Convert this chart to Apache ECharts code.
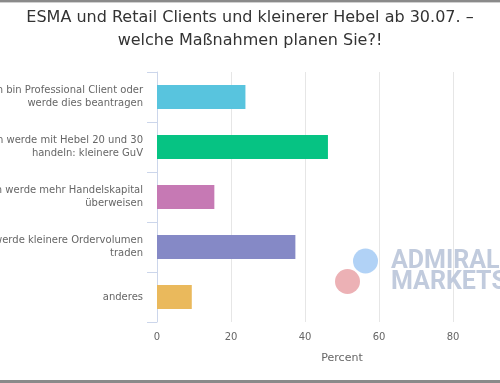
<!DOCTYPE html>
<html>
<head>
<meta charset="utf-8">
<script src="https://cdn.jsdelivr.net/npm/echarts@6/dist/echarts.min.js"></script>
<style>
html,body{margin:0;padding:0;background:#fff;}
#chart{width:500px;height:383px;}
</style>
</head>
<body>
<div id="chart"></div>
<script>
const titleText = 'ESMA und Retail Clients und kleinerer Hebel ab 30.07. –\nwelche Maßnahmen planen Sie?!';
const categories = [
  'Ich bin Professional Client oder\nwerde dies beantragen',
  'Ich werde mit Hebel 20 und 30\nhandeln: kleinere GuV',
  'Ich werde mehr Handelskapital\nüberweisen',
  'Ich werde kleinere Ordervolumen\ntraden',
  'anderes'
];
const percentValues = [23.9, 46.2, 15.5, 37.4, 9.4];
const barColors = ['#58c4de', '#06c383', '#c679b4', '#8589c6', '#eab95c'];
const axisName = 'Percent';
const xTicks = [0, 20, 40, 60, 80, 100];

const chart = echarts.init(document.getElementById('chart'), null, {renderer: 'canvas'});
const font = 'DejaVu Sans, Lucida Grande, sans-serif';
chart.setOption({
  animation: false,
  backgroundColor: '#ffffff',
  title: {
    text: titleText,
    left: 'center',
    top: 1,
    textStyle: {fontFamily: font, fontSize: 16, fontWeight: 'normal', color: '#333333', lineHeight: 23}
  },
  grid: {left: 157, top: 72, width: 370, height: 250, containLabel: false, outerBoundsMode: 'none'},
  xAxis: {
    type: 'value',
    min: xTicks[0],
    max: xTicks[xTicks.length - 1],
    interval: 20,
    name: axisName,
    nameLocation: 'middle',
    nameGap: 31,
    nameTextStyle: {fontFamily: font, fontSize: 11, color: '#666666'},
    axisLine: {show: false},
    axisTick: {show: false},
    axisLabel: {fontFamily: font, fontSize: 10, color: '#666666', margin: 10},
    splitLine: {show: true, lineStyle: {color: '#e6e6e6', width: 1}}
  },
  yAxis: {
    type: 'category',
    inverse: true,
    data: categories,
    axisLine: {show: true, lineStyle: {color: '#ccd6eb', width: 1}},
    axisTick: {show: true, length: 10, lineStyle: {color: '#ccd6eb'}},
    axisLabel: {fontFamily: font, fontSize: 10, color: '#666666', margin: 14, lineHeight: 13, align: 'right'},
    splitLine: {show: false}
  },
  series: [{
    type: 'bar',
    barWidth: 24,
    data: percentValues.map((v, i) => ({value: v, itemStyle: {color: barColors[i]}})),
    z: 2
  }],
  graphic: [
    {type: 'rect', shape: {x: 0, y: 0, width: 500, height: 2}, style: {fill: '#8a8a8a'}, z: 100},
    {type: 'rect', shape: {x: 0, y: 2, width: 500, height: 1}, style: {fill: '#d0d0d0'}, z: 100},
    {type: 'rect', shape: {x: 0, y: 380, width: 500, height: 3}, style: {fill: '#8a8a8a'}, z: 100},
    {type: 'circle', shape: {cx: 365.5, cy: 261, r: 12.5}, style: {fill: '#a9cdf5', opacity: 0.9}, z: 50},
    {type: 'circle', shape: {cx: 347.5, cy: 281.5, r: 12.5}, style: {fill: '#eaa9ad', opacity: 0.9}, z: 50},
    {type: 'text', x: 391, y: 249, style: {text: 'ADMIRAL', fontFamily: 'Roboto, DejaVu Sans, sans-serif', fontSize: 25, fontWeight: 'bold', fill: '#b6c2d7', opacity: 0.85, textVerticalAlign: 'top'}, z: 50},
    {type: 'text', x: 391, y: 270, style: {text: 'MARKETS', fontFamily: 'Roboto, DejaVu Sans, sans-serif', fontSize: 25, fontWeight: 'bold', fill: '#b6c2d7', opacity: 0.85, textVerticalAlign: 'top'}, z: 50}
  ]
});
</script>
</body>
</html>
